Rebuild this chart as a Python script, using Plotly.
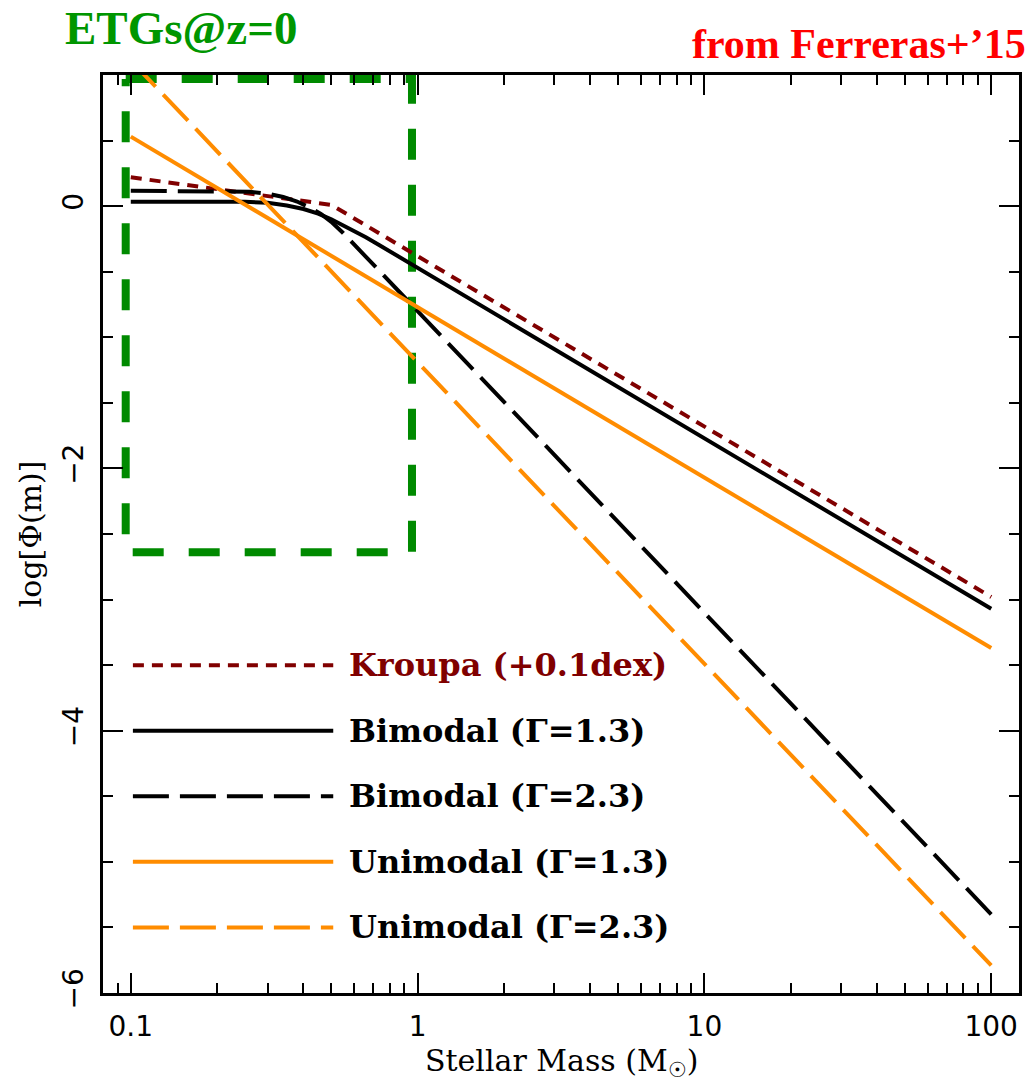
import numpy as np
import plotly.graph_objects as go

# ---------------- data (stellar mass in Msun, log Phi) ----------------
kroupa_m = [0.1, 0.5, 100]
kroupa_phi = [0.22, 0.01, -2.98]

bi13_m = [0.1, 0.2, 0.25, 0.30, 0.35, 0.40, 0.45, 0.50, 0.55, 0.60, 0.66, 0.734, 1.0, 100]
bi13_phi = [0.034, 0.034, 0.034, 0.025, 0.005, -0.022, -0.057, -0.10, -0.145, -0.185, -0.237, -0.296, -0.47, -3.07]

bi23_m = [0.1, 0.22, 0.26, 0.30, 0.34, 0.38, 0.42, 0.46, 0.50, 0.55, 0.60, 0.75, 1.0, 100]
bi23_phi = [0.117, 0.117, 0.11, 0.095, 0.07, 0.035, -0.01, -0.06, -0.12, -0.205, -0.29, -0.513, -0.80, -5.40]

uni13_m = [0.1, 100]
uni13_phi = [0.53, -3.37]

uni23_m = [0.1, 100]
uni23_phi = [1.11, -5.79]

box_m = [0.096, 0.956, 0.956, 0.096, 0.096]
box_phi = [0.97, 0.97, -2.64, -2.64, 0.97]

legend_labels = ["Kroupa (+0.1dex)", "Bimodal (\u0393=1.3)", "Bimodal (\u0393=2.3)",
                 "Unimodal (\u0393=1.3)", "Unimodal (\u0393=2.3)"]
legend_rows = [-3.5, -4.0, -4.5, -5.0, -5.5]

x_tickvals = [0.1, 1, 10, 100]
x_ticktext = ["0.1", "1", "10", "100"]
x_minor = [0.09, 0.2, 0.3, 0.4, 0.5, 0.6, 0.7, 0.8, 0.9,
           2, 3, 4, 5, 6, 7, 8, 9, 20, 30, 40, 50, 60, 70, 80, 90]
y_tickvals = [0, -2, -4, -6]
y_ticktext = ["0", "\u22122", "\u22124", "\u22126"]

DRED = "#800000"
ORANGE = "#FF8C00"
BLACK = "#000000"
GREEN = "#008A00"

styles = [
    (DRED, "11px,8px"),
    (BLACK, "solid"),
    (BLACK, "36px,11px"),
    (ORANGE, "solid"),
    (ORANGE, "36px,11px"),
]
series = [(kroupa_m, kroupa_phi), (bi13_m, bi13_phi), (bi23_m, bi23_phi),
          (uni13_m, uni13_phi), (uni23_m, uni23_phi)]

fig = go.Figure()

fig.add_trace(go.Scatter(x=box_m, y=box_phi, mode="lines",
                         line=dict(color=GREEN, width=8, dash="31px,25px"),
                         showlegend=False, hoverinfo="skip"))

for (m, p), (c, d), name in zip(series, styles, legend_labels):
    fig.add_trace(go.Scatter(x=m, y=p, mode="lines", name=name,
                             line=dict(color=c, width=4, dash=d),
                             showlegend=False))

# layout geometry (pixels)
W, H = 1034, 1083
L, R, T, B = 103, 12, 75, 90
pw, ph = W - L - R, H - T - B


def px(xp):
    return (xp - L) / pw


def py(yp):
    return (H - B - yp) / ph


shapes = []
annotations = []
for (c, d), name, row in zip(styles, legend_labels, legend_rows):
    shapes.append(dict(type="line", xref="paper", yref="y",
                       x0=px(133), x1=px(334), y0=row, y1=row,
                       line=dict(color=c, width=4, dash=d)))
    annotations.append(dict(xref="paper", yref="y", x=px(348), y=row,
                            text=name, showarrow=False, xanchor="left", yanchor="middle",
                            font=dict(family="DejaVu Serif", size=32, weight="bold",
                                      color=DRED if c == DRED else BLACK)))

annotations.append(dict(xref="paper", yref="paper", x=px(63), y=py(28),
                        text="<b>ETGs@z=0</b>", showarrow=False,
                        xanchor="left", yanchor="middle",
                        font=dict(family="Liberation Serif", size=47, color="#009600")))
annotations.append(dict(xref="paper", yref="paper", x=px(1031), y=py(44),
                        text="<b>from Ferreras+\u201915</b>", showarrow=False,
                        xanchor="right", yanchor="middle",
                        font=dict(family="Liberation Serif", size=42, color="#FF0000")))
annotations.append(dict(xref="paper", yref="paper", x=px(563), y=py(1062),
                        text="Stellar Mass (M<sub>\u2609</sub>)", showarrow=False,
                        xanchor="center", yanchor="middle",
                        font=dict(family="DejaVu Serif", size=30, color=BLACK)))
annotations.append(dict(xref="paper", yref="paper", x=px(30), y=py(534),
                        text="log[\u03a6(m)]", showarrow=False, textangle=-90,
                        xanchor="center", yanchor="middle",
                        font=dict(family="DejaVu Serif", size=30, color=BLACK)))

axis_common = dict(showline=True, linecolor=BLACK, linewidth=3, mirror="allticks",
                   ticks="inside", ticklen=20, tickwidth=2, tickcolor=BLACK,
                   showgrid=False, zeroline=False,
                   tickfont=dict(family="DejaVu Sans", size=28, color=BLACK))

fig.update_layout(
    width=W, height=H,
    margin=dict(l=L, r=R, t=T, b=B),
    paper_bgcolor="white", plot_bgcolor="white",
    showlegend=False,
    xaxis=dict(type="log", range=[np.log10(0.08), np.log10(125)],
               tickvals=x_tickvals, ticktext=x_ticktext,
               ticklabelstandoff=6,
               minor=dict(ticks="inside", ticklen=10, tickwidth=2, tickcolor=BLACK,
                          tickvals=x_minor, showgrid=False),
               **axis_common),
    yaxis=dict(range=[-6, 1], tickvals=y_tickvals, ticktext=y_ticktext,
               tickangle=-90, ticklabelstandoff=6,
               minor=dict(ticks="inside", ticklen=10, tickwidth=2, tickcolor=BLACK,
                          dtick=0.5, showgrid=False),
               **axis_common),
    shapes=shapes,
    annotations=annotations,
)

fig.write_html("out.html")
